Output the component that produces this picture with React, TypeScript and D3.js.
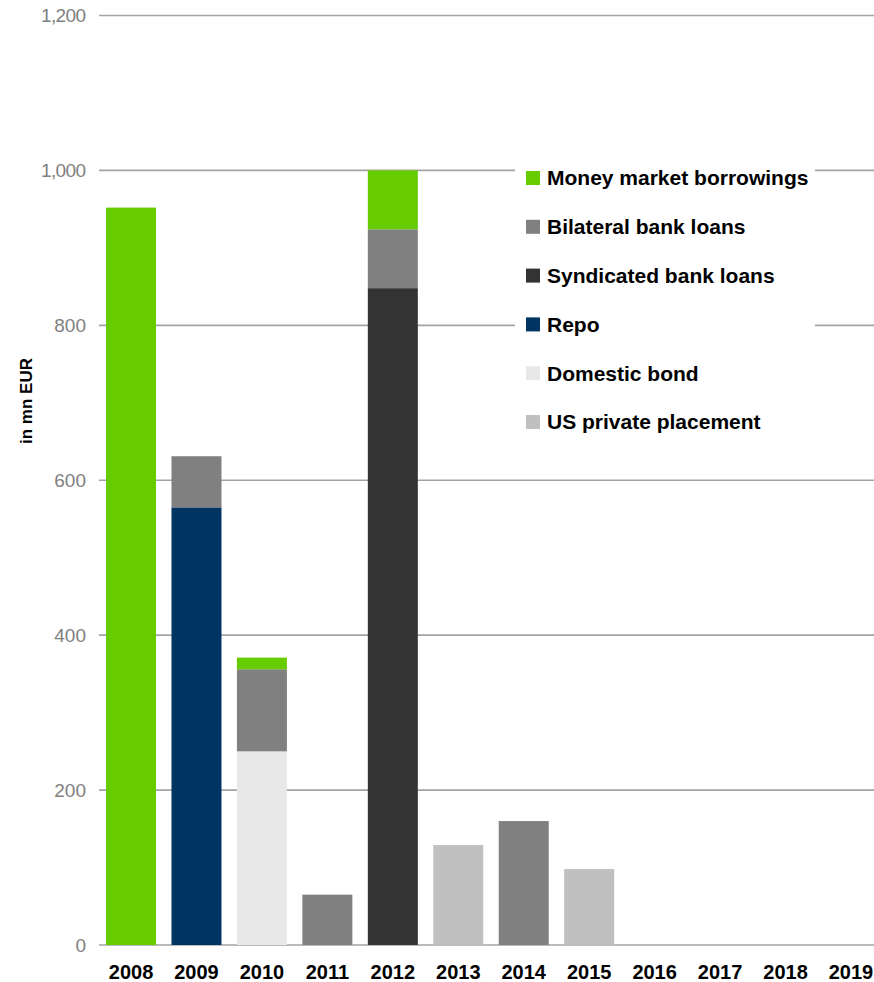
import React from "react";
import * as d3 from "d3";

const years = ["2008","2009","2010","2011","2012","2013","2014","2015","2016","2017","2018","2019"];
const syndicated = [0, 0, 0, 0, 848, 0, 0, 0, 0, 0, 0, 0];
const repo = [0, 565, 0, 0, 0, 0, 0, 0, 0, 0, 0, 0];
const domesticBond = [0, 0, 250, 0, 0, 0, 0, 0, 0, 0, 0, 0];
const usPrivatePlacement = [0, 0, 0, 0, 0, 129, 0, 98, 0, 0, 0, 0];
const bilateral = [0, 66, 106, 65, 76, 0, 160, 0, 0, 0, 0, 0];
const moneyMarket = [952, 0, 15, 0, 76, 0, 0, 0, 0, 0, 0, 0];
const yTicks = [0, 200, 400, 600, 800, 1000, 1200];

const seriesKeys = ["syn", "repo", "dom", "uspp", "bil", "mm"];
const seriesNames: Record<string, string> = {
  mm: "Money market borrowings",
  bil: "Bilateral bank loans",
  syn: "Syndicated bank loans",
  repo: "Repo",
  dom: "Domestic bond",
  uspp: "US private placement",
};
const colors: Record<string, string> = {
  mm: "#66cc00",
  bil: "#808080",
  syn: "#333333",
  repo: "#003463",
  dom: "#e8e8e8",
  uspp: "#c0c0c0",
};
const legendOrder = ["mm", "bil", "syn", "repo", "dom", "uspp"];

const W = 874;
const H = 982;

export default function App() {
  const table = years.map((y, i) => ({
    year: y,
    syn: syndicated[i],
    repo: repo[i],
    dom: domesticBond[i],
    uspp: usPrivatePlacement[i],
    bil: bilateral[i],
    mm: moneyMarket[i],
  }));
  const stacked = d3.stack<any>().keys(seriesKeys)(table);

  const x = d3
    .scaleBand<string>()
    .domain(years)
    .range([98.3, 98.3 + 12 * 65.45])
    .paddingInner(0.236)
    .paddingOuter(0.118);
  const y = d3.scaleLinear().domain([0, 1200]).range([945, 15.5]);

  const font = "Liberation Sans, Arial, Helvetica, sans-serif";

  return (
    <svg
      width={W}
      height={H}
      style={{ position: "absolute", left: 0, top: 0, background: "#fff" }}
      fontFamily={font}
    >
      {yTicks.map((t) => (
        <g key={t}>
          <line
            x1={99}
            x2={W}
            y1={y(t)}
            y2={y(t)}
            stroke="#a3a3a3"
            strokeWidth={1.7}
          />
          {t >= 1000 ? (
            <text
              x={41}
              y={y(t)}
              dy="0.35em"
              fontSize={19}
              fill="#808080"
              textLength={45}
              lengthAdjust="spacing"
            >
              {d3.format(",")(t)}
            </text>
          ) : (
            <text
              x={86}
              y={y(t)}
              dy="0.35em"
              textAnchor="end"
              fontSize={19}
              fill="#808080"
            >
              {String(t)}
            </text>
          )}
        </g>
      ))}

      {stacked.map((s) => (
        <g key={s.key} fill={colors[s.key]}>
          {s.map((d, i) =>
            d[1] - d[0] > 0 ? (
              <rect
                key={i}
                x={x(years[i])}
                width={x.bandwidth()}
                y={y(d[1])}
                height={y(d[0]) - y(d[1])}
              />
            ) : null
          )}
        </g>
      ))}

      {years.map((yr) => (
        <text
          key={yr}
          x={(x(yr) as number) + x.bandwidth() / 2}
          y={979}
          textAnchor="middle"
          fontSize={20}
          fontWeight="bold"
          fill="#000"
        >
          {yr}
        </text>
      ))}

      <text
        transform="translate(32,401) rotate(-90)"
        textAnchor="middle"
        fontSize={17}
        fontWeight="bold"
        fill="#000"
      >
        in mn EUR
      </text>

      <rect x={515} y={160} width={300} height={282} fill="#fff" />
      {legendOrder.map((k, i) => {
        const cy = 178 + i * 48.8;
        return (
          <g key={k}>
            <rect x={526} y={cy - 7} width={14} height={14} fill={colors[k]} />
            <text
              x={547}
              y={cy}
              dy="0.35em"
              fontSize={21}
              fontWeight="bold"
              fill="#000"
            >
              {seriesNames[k]}
            </text>
          </g>
        );
      })}
    </svg>
  );
}
